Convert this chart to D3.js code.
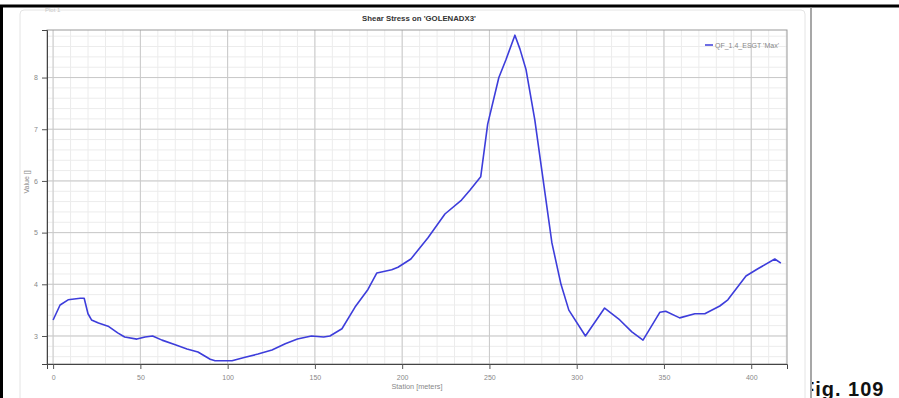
<!DOCTYPE html>
<html>
<head>
<meta charset="utf-8">
<script src="https://cdn.jsdelivr.net/npm/d3@7"></script>
<style>
  html, body { margin: 0; padding: 0; background: #fff; }
  svg { display: block; }
</style>
</head>
<body>
<div id="chart"></div>
<script>
// station (m) and shear stress values
const stations = [0, 4, 8.6, 15.5, 17.8, 20, 22, 26, 31.5, 37, 41, 48, 52.7, 57, 62.4, 70, 76.7, 83, 90, 92.8,
  102.5, 110, 117.4, 125.4, 133, 140, 148, 155, 158.6, 165.5, 173, 180.4, 185.5, 194, 197.6, 205, 214.8,
  224.5, 234, 238.8, 245, 249, 255.4, 259.4, 264.6, 267.5, 271, 276, 280, 285.8, 291, 295.5, 305,
  316, 324.7, 331.6, 338, 347.7, 351, 359, 367.7, 373.4, 382, 386.6, 397, 403.8, 413.5, 417];
const values = [3.31, 3.6, 3.7, 3.73, 3.73, 3.43, 3.31, 3.25, 3.19, 3.06, 2.98, 2.94, 2.98, 3.0, 2.92, 2.83, 2.75, 2.69, 2.55, 2.52,
  2.52, 2.59, 2.65, 2.73, 2.85, 2.94, 3.0, 2.98, 3.0, 3.14, 3.56, 3.9, 4.22, 4.28, 4.33, 4.49, 4.9,
  5.36, 5.63, 5.82, 6.08, 7.1, 8.0, 8.34, 8.82, 8.55, 8.15, 7.18, 6.21, 4.8, 4.0, 3.5, 3.0,
  3.54, 3.31, 3.08, 2.92, 3.46, 3.48, 3.35, 3.43, 3.43, 3.58, 3.7, 4.16, 4.3, 4.49, 4.41];
const xTicks = [0, 50, 100, 150, 200, 250, 300, 350, 400];
const yTicks = [3, 4, 5, 6, 7, 8];
const seriesName = "QF_1.4_ESGT 'Max'";
const chartTitle = "Shear Stress on 'GOLENADX3'";

const W = 899, H = 398;
const plot = {left: 47, right: 787, top: 30, bottom: 364};

const svg = d3.select("#chart").append("svg")
  .attr("width", W).attr("height", H)
  .attr("font-family", "'Liberation Sans', Arial, sans-serif");

// panel behind the chart
svg.append("rect")
  .attr("x", 20).attr("y", 10).attr("width", 785).attr("height", 392)
  .attr("rx", 4)
  .attr("fill", "#fff").attr("stroke", "#e4e4e4");

svg.append("text")
  .attr("x", 45).attr("y", 12)
  .attr("font-size", 6).attr("fill", "#c8c8c8")
  .text("Plot 1");

const x = d3.scaleLinear().domain([-3.5, 420.5]).range([plot.left, plot.right]);
const y = d3.scaleLinear().domain([2.458, 8.92]).range([plot.bottom, plot.top]);

const g = svg.append("g");

// minor grid
g.selectAll(".vminor").data(d3.range(0, 421, 10))
  .join("line")
  .attr("x1", d => x(d)).attr("x2", d => x(d))
  .attr("y1", plot.top).attr("y2", plot.bottom)
  .attr("stroke", "#ececec").attr("stroke-width", 1);
g.selectAll(".hminor").data(d3.range(2.6, 8.9, 0.2))
  .join("line")
  .attr("y1", d => y(d)).attr("y2", d => y(d))
  .attr("x1", plot.left).attr("x2", plot.right)
  .attr("stroke", "#ececec").attr("stroke-width", 1);

// major grid
g.selectAll(".vmajor").data(xTicks)
  .join("line")
  .attr("x1", d => x(d)).attr("x2", d => x(d))
  .attr("y1", plot.top).attr("y2", plot.bottom)
  .attr("stroke", "#c9c9c9").attr("stroke-width", 1);
g.selectAll(".hmajor").data(yTicks)
  .join("line")
  .attr("y1", d => y(d)).attr("y2", d => y(d))
  .attr("x1", plot.left).attr("x2", plot.right)
  .attr("stroke", "#c9c9c9").attr("stroke-width", 1);

// plot frame
g.append("rect")
  .attr("x", plot.left).attr("y", plot.top)
  .attr("width", plot.right - plot.left).attr("height", plot.bottom - plot.top)
  .attr("fill", "none").attr("stroke", "#9a9a9a");

// axes
const xAxis = svg.append("g").attr("transform", `translate(0,${plot.bottom})`);
xAxis.call(d3.axisBottom(x).tickValues(d3.range(0, 421, 10)).tickSize(3).tickFormat(""));
xAxis.call(d3.axisBottom(x).tickValues(xTicks).tickSize(5).tickPadding(6).tickFormat(d3.format("d")));
xAxis.selectAll(".domain").attr("stroke", "#444");
xAxis.selectAll("line").attr("stroke", "#555");
xAxis.selectAll("text").attr("font-size", 7).attr("fill", "#888");

const yAxis = svg.append("g").attr("transform", `translate(${plot.left},0)`);
yAxis.call(d3.axisLeft(y).tickValues(d3.range(2.6, 8.9, 0.2)).tickSize(3).tickFormat(""));
yAxis.call(d3.axisLeft(y).tickValues(yTicks).tickSize(5).tickPadding(4).tickFormat(d3.format("d")));
yAxis.selectAll(".domain").attr("stroke", "#444");
yAxis.selectAll("line").attr("stroke", "#555");
yAxis.selectAll("text").attr("font-size", 7).attr("fill", "#888");

// axis titles
svg.append("text")
  .attr("x", 417).attr("y", 389)
  .attr("text-anchor", "middle")
  .attr("font-size", 7.3).attr("fill", "#888")
  .text("Station [meters]");
svg.append("text")
  .attr("transform", "translate(29,182) rotate(-90)")
  .attr("text-anchor", "middle")
  .attr("font-size", 7).attr("fill", "#888")
  .text("Value []");

// title
svg.append("text")
  .attr("x", 419).attr("y", 21)
  .attr("text-anchor", "middle")
  .attr("font-size", 7.8).attr("font-weight", "bold").attr("fill", "#333")
  .text(chartTitle);

// series
const line = d3.line()
  .x((d, i) => x(stations[i]))
  .y(d => y(d));
svg.append("path")
  .datum(values)
  .attr("d", line)
  .attr("fill", "none")
  .attr("stroke", "#3d3ddb")
  .attr("stroke-width", 1.6)
  .attr("stroke-linejoin", "round");

// legend
svg.append("line")
  .attr("x1", 705).attr("x2", 713).attr("y1", 45).attr("y2", 45)
  .attr("stroke", "#3d3ddb").attr("stroke-width", 1.5);
svg.append("text")
  .attr("x", 715).attr("y", 47.5)
  .attr("font-size", 7).attr("fill", "#888")
  .text(seriesName);

// page frame around the figure
svg.append("line")
  .attr("x1", 0).attr("x2", W).attr("y1", 6).attr("y2", 6)
  .attr("stroke", "#000").attr("stroke-width", 3);
svg.append("line")
  .attr("x1", 1.5).attr("x2", 1.5).attr("y1", 6).attr("y2", H)
  .attr("stroke", "#000").attr("stroke-width", 3);
svg.append("line")
  .attr("x1", 811).attr("x2", 811).attr("y1", 7).attr("y2", H)
  .attr("stroke", "#8a8a8a").attr("stroke-width", 1.5);

// caption, cut on the left by the frame
svg.append("clipPath").attr("id", "capclip")
  .append("rect").attr("x", 812).attr("y", 0).attr("width", 100).attr("height", H);
svg.append("text")
  .attr("clip-path", "url(#capclip)")
  .attr("x", 802).attr("y", 396)
  .attr("font-size", 20).attr("font-weight", "bold")
  .attr("letter-spacing", 1)
  .attr("fill", "#111")
  .text("Fig. 109");
</script>
</body>
</html>
